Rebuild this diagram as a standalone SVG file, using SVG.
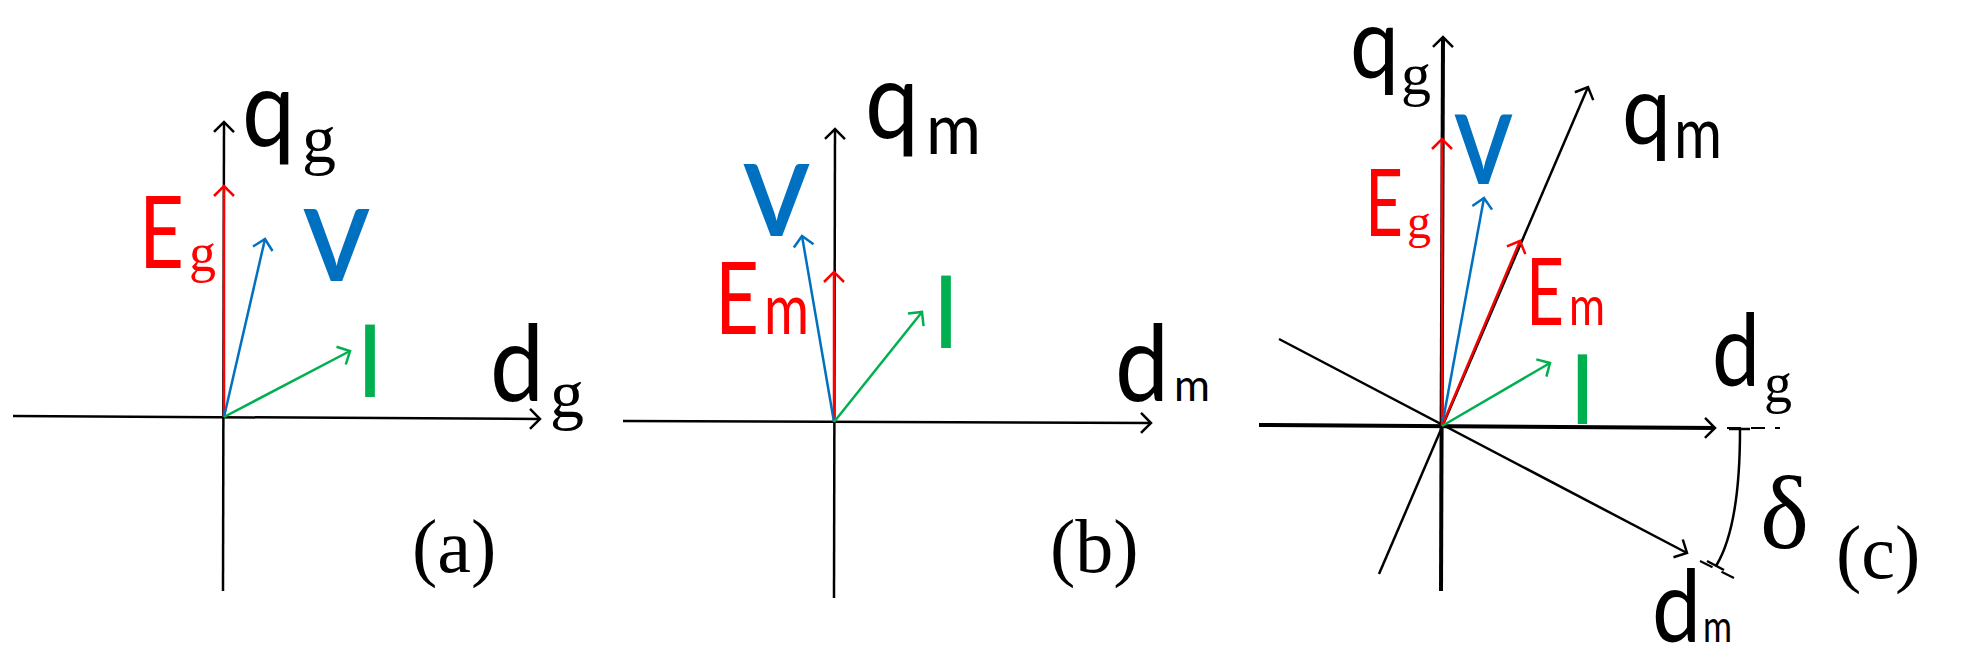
<svg xmlns="http://www.w3.org/2000/svg" width="1986" height="663" viewBox="0 0 1986 663">
<style>
.ax{stroke:#000;stroke-width:2.5;fill:none}
.axc{stroke:#000;stroke-width:4;fill:none}
.r{stroke:#f00;stroke-width:2.5;fill:none}
.b{stroke:#0070c0;stroke-width:2.5;fill:none}
.g{stroke:#00b050;stroke-width:2.5;fill:none}
.s{font-family:Lato,"Liberation Sans",sans-serif}
.t{font-family:"Liberation Serif",serif}
.dash{stroke:#000;stroke-width:2;stroke-dasharray:14 10;fill:none}
</style>
<defs>
<marker id="mk" markerUnits="userSpaceOnUse" markerWidth="30" markerHeight="30" refX="14" refY="10" orient="auto" overflow="visible"><path d="M4,0 L14,10 L4,20" fill="none" stroke="#000" stroke-width="2.5"/></marker>
<marker id="mr" markerUnits="userSpaceOnUse" markerWidth="30" markerHeight="30" refX="14" refY="10" orient="auto" overflow="visible"><path d="M4,0 L14,10 L4,20" fill="none" stroke="#f00" stroke-width="2.5"/></marker>
<marker id="mb" markerUnits="userSpaceOnUse" markerWidth="30" markerHeight="30" refX="14" refY="10" orient="auto" overflow="visible"><path d="M4,0 L14,10 L4,20" fill="none" stroke="#0070c0" stroke-width="2.5"/></marker>
<marker id="mg" markerUnits="userSpaceOnUse" markerWidth="30" markerHeight="30" refX="14" refY="10" orient="auto" overflow="visible"><path d="M4,0 L14,10 L4,20" fill="none" stroke="#00b050" stroke-width="2.5"/></marker>
</defs>
<rect width="1986" height="663" fill="#fff"/>
<g id="connectors">
<line class="ax" x1="13" y1="416" x2="540" y2="419" marker-end="url(#mk)"/>
<line class="ax" x1="223" y1="591" x2="224" y2="122" marker-end="url(#mk)"/>
<line class="r" x1="224" y1="417" x2="224" y2="186" marker-end="url(#mr)"/>
<line class="b" x1="224" y1="417" x2="265" y2="239" marker-end="url(#mb)"/>
<line class="g" x1="224" y1="417" x2="350" y2="351" marker-end="url(#mg)"/>
<line class="ax" x1="623" y1="421" x2="1151" y2="423" marker-end="url(#mk)"/>
<line class="ax" x1="834" y1="598" x2="835" y2="129" marker-end="url(#mk)"/>
<line class="r" x1="834" y1="422" x2="834" y2="272" marker-end="url(#mr)"/>
<line class="b" x1="834" y1="422" x2="802" y2="236" marker-end="url(#mb)"/>
<line class="g" x1="834" y1="422" x2="922" y2="312" marker-end="url(#mg)"/>
<line class="axc" x1="1259" y1="425" x2="1715" y2="428" marker-end="url(#mk)"/>
<line class="dash" x1="1727" y1="428" x2="1780" y2="428"/>
<line class="axc" x1="1441" y1="591" x2="1443" y2="37" marker-end="url(#mk)"/>
<line class="ax" x1="1379" y1="574" x2="1588" y2="87" marker-end="url(#mk)"/>
<line class="ax" x1="1279" y1="339" x2="1687" y2="553" marker-end="url(#mk)"/>
<line class="dash" x1="1700" y1="561" x2="1742" y2="582"/>
<path class="ax" d="M1740,430 C1740,480 1735,535 1716,566"/>
<line class="ax" x1="1729" y1="429" x2="1750" y2="429"/>
<line class="ax" x1="1707" y1="561" x2="1724" y2="570"/>
<line class="r" x1="1442" y1="426" x2="1442" y2="139" marker-end="url(#mr)"/>
<line class="b" x1="1442" y1="426" x2="1484" y2="198" marker-end="url(#mb)"/>
<line class="r" x1="1442" y1="426" x2="1520" y2="241" marker-end="url(#mr)"/>
<line class="g" x1="1442" y1="426" x2="1550" y2="363" marker-end="url(#mg)"/>
</g>
<g id="panel-a">
<text class="s" x="242" y="146" font-size="106" textLength="53" lengthAdjust="spacingAndGlyphs">q</text><text class="t" x="302" y="162" font-size="68">g</text>
<text class="s" x="139" y="268" font-size="100" fill="#f00" textLength="45" lengthAdjust="spacingAndGlyphs">E</text><text class="t" x="189" y="271" font-size="54" fill="#f00">g</text>
<text class="s" x="304" y="281" font-size="100" font-weight="bold" fill="#0070c0" textLength="65" lengthAdjust="spacingAndGlyphs">V</text>
<text class="s" x="356" y="397" font-size="100" fill="#00b050">I</text>
<text class="s" x="490" y="401" font-size="106" textLength="54" lengthAdjust="spacingAndGlyphs">d</text><text class="t" x="550" y="417" font-size="68">g</text>
<text class="t" x="412" y="572" font-size="76">(a)</text>
</g>
<g id="panel-b">
<text class="s" x="865" y="138" font-size="106" textLength="54" lengthAdjust="spacingAndGlyphs">q</text><text class="s" x="926" y="154" font-size="72" textLength="55" lengthAdjust="spacingAndGlyphs">m</text>
<text class="s" x="744" y="236" font-size="100" font-weight="bold" fill="#0070c0" textLength="65" lengthAdjust="spacingAndGlyphs">V</text>
<text class="s" x="715" y="334" font-size="100" fill="#f00" textLength="44" lengthAdjust="spacingAndGlyphs">E</text><text class="s" x="764" y="334" font-size="72" fill="#f00" textLength="45" lengthAdjust="spacingAndGlyphs">m</text>
<text class="s" x="932" y="348" font-size="100" fill="#00b050">I</text>
<text class="s" x="1115" y="401" font-size="106" textLength="54" lengthAdjust="spacingAndGlyphs">d</text><text class="s" x="1174" y="401" font-size="44" textLength="36" lengthAdjust="spacingAndGlyphs">m</text>
<text class="t" x="1050" y="572" font-size="76">(b)</text>
</g>
<g id="panel-c">
<text class="s" x="1350" y="78" font-size="98" textLength="49" lengthAdjust="spacingAndGlyphs">q</text><text class="t" x="1401" y="94" font-size="60">g</text>
<text class="s" x="1455" y="184" font-size="96" font-weight="bold" fill="#0070c0" textLength="57" lengthAdjust="spacingAndGlyphs">V</text>
<text class="s" x="1365" y="236" font-size="94" fill="#f00" textLength="38" lengthAdjust="spacingAndGlyphs">E</text><text class="t" x="1407" y="238" font-size="48" fill="#f00">g</text>
<text class="s" x="1526" y="325" font-size="94" fill="#f00" textLength="38" lengthAdjust="spacingAndGlyphs">E</text><text class="s" x="1569" y="325" font-size="54" fill="#f00" textLength="36" lengthAdjust="spacingAndGlyphs">m</text>
<text class="s" x="1569" y="424" font-size="96" fill="#00b050">I</text>
<text class="s" x="1622" y="144" font-size="96" textLength="49" lengthAdjust="spacingAndGlyphs">q</text><text class="s" x="1674" y="158" font-size="72" textLength="48" lengthAdjust="spacingAndGlyphs">m</text>
<text class="s" x="1712" y="386" font-size="100" textLength="48" lengthAdjust="spacingAndGlyphs">d</text><text class="t" x="1764" y="402" font-size="56">g</text>
<text class="s" x="1652" y="642" font-size="100" textLength="49" lengthAdjust="spacingAndGlyphs">d</text><text class="s" x="1703" y="642" font-size="44" textLength="29" lengthAdjust="spacingAndGlyphs">m</text>
<text class="t" x="1760" y="548" font-size="104">δ</text>
<text class="t" x="1836" y="578" font-size="76">(c)</text>
</g>
</svg>
